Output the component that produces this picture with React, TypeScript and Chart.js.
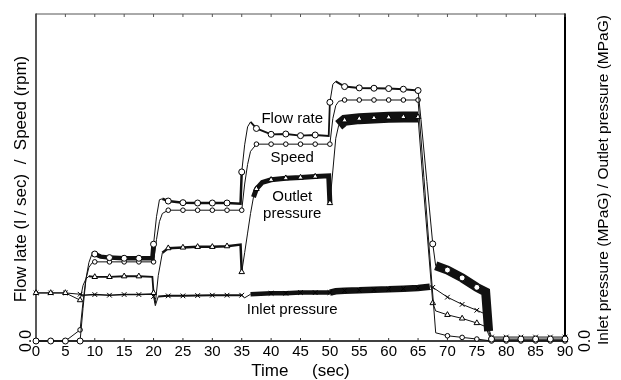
import React, { useEffect, useRef } from 'react';
import { Chart, registerables } from 'chart.js';

Chart.register(...registerables);

const FONT = "'Liberation Sans', Arial, Helvetica, sans-serif";

// ---- data ----
const X_TICKS = [0, 5, 10, 15, 20, 25, 30, 35, 40, 45, 50, 55, 60, 65, 70, 75, 80, 85, 90];

const flowTime = [0, 2.5, 5, 7.5, 8, 8.5, 9, 9.5, 10, 11, 12.5, 15, 17.5, 19.8, 20, 20.5, 21, 21.5, 22.5, 25, 27.5, 30, 32.5, 34.8, 35, 35.5, 36, 36.5, 37.5, 40, 42.5, 45, 47.5, 49.8, 50, 50.5, 51, 52, 52.5, 55, 57.5, 60, 62.5, 65, 65.5, 66.5, 67.5, 68, 70, 72.5, 75, 76.5, 77, 77.5, 80, 82.5, 85, 87.5, 90];
const flowRate = [0, 0, 0, 0, 10, 19, 24, 26.5, 26.6, 25.8, 25.5, 25.3, 25.3, 25.3, 29.6, 38, 43.2, 43.5, 42.8, 42.3, 42.2, 42.2, 42.2, 42, 51.7, 60, 65.5, 67, 65, 63.2, 63.3, 62.8, 63, 62.7, 73, 78.5, 79.4, 78.3, 77.8, 77.4, 77.3, 77.2, 77, 76.6, 67.7, 48.8, 29.7, 23, 21.7, 19.3, 16.4, 15, 3, 0.6, 0.6, 0.6, 0.6, 0.6, 0.6];

const speedTime = [0, 2.5, 5, 7.5, 8, 8.5, 9, 9.5, 10, 12.5, 15, 17.5, 20, 20.5, 21, 21.5, 22.5, 25, 27.5, 30, 32.5, 35, 35.5, 36, 36.5, 37.5, 40, 42.5, 45, 47.5, 50, 50.5, 51, 51.5, 52.5, 55, 57.5, 60, 62.5, 65, 66, 67, 68, 70, 72.5, 75, 77.5, 80, 82.5, 85, 87.5, 90];
const speedValue = [0, 0, 0, 3.4, 12, 19, 22.5, 23.8, 24.2, 24.2, 24.2, 24.2, 24.2, 31, 36.5, 39, 40, 40, 40, 40, 40, 40, 48, 54, 58, 60.2, 60.2, 60.2, 60.2, 60.2, 60.2, 68, 72, 73.3, 73.7, 73.7, 73.7, 73.7, 73.7, 73.7, 50, 26, 2.5, 1.6, 1.1, 0.6, 0, 0, 0, 0, 0, 0];

const outletTime = [0, 2.5, 5, 7.5, 8, 8.5, 9, 10, 12.5, 15, 17.5, 19.8, 20, 20.3, 20.8, 21.5, 22.5, 25, 27.5, 30, 32.5, 34.8, 35, 35.5, 36, 36.5, 37, 37.5, 38.5, 40, 42.5, 45, 47.5, 49.8, 50, 50.5, 51, 51.5, 52.5, 55, 57.5, 60, 62.5, 65, 66, 67.5, 68, 70, 72.5, 75, 76.5, 77, 77.5, 80, 82.5, 85, 87.5, 90];
const outletPressure = [14.7, 14.7, 14.7, 12.5, 17, 19, 19.8, 19.6, 19.6, 19.8, 19.8, 19.6, 14.7, 11.5, 20, 27, 28.4, 28.6, 28.8, 28.8, 29, 29.5, 21.1, 27, 33, 39, 44, 46.5, 48.5, 49.3, 49.8, 50, 50.3, 50.5, 42.2, 52, 62, 66, 67.5, 68, 68.2, 68.4, 68.5, 68.5, 45, 11.6, 9.2, 8, 6.9, 5.5, 4.4, 2, 0.3, 0.3, 0.3, 0.3, 0.3, 0.3];

const inletTime = [0, 2.5, 5, 7.5, 8, 10, 12.5, 15, 17.5, 19.8, 20, 20.3, 20.8, 22.5, 25, 27.5, 30, 32.5, 35, 35.5, 36.5, 40, 42.5, 45, 47.5, 50, 51, 52.5, 55, 57.5, 60, 62.5, 65, 67, 67.5, 70, 72.5, 75, 76.5, 77, 77.5, 80, 82.5, 85, 87.5, 90];
const inletPressure = [14.7, 14.7, 14.7, 14.3, 14.0, 14.2, 14.0, 14.2, 14.2, 14.4, 13.6, 10.8, 13.6, 13.8, 13.8, 13.9, 14.0, 14.0, 14.0, 13.2, 14.3, 14.6, 14.6, 14.8, 14.8, 14.8, 15.2, 15.4, 15.5, 15.7, 15.8, 16.0, 16.2, 16.6, 16.4, 13.4, 11.2, 9.4, 8.2, 4, 1.2, 1.2, 1.2, 1.2, 1.2, 1.2];

const X_TITLE = 'Time     (sec)';
const LEFT_TITLE = 'Flow late (l / sec)  /  Speed (rpm)';
const RIGHT_TITLE = 'Inlet pressure (MPaG) / Outlet pressure (MPaG)';
const ZERO_LABEL = '0.0';

// in-plot labels: text with anchor in data units (sec, value)
const LABELS = [
  { text: 'Flow rate', t: 43.6, v: 66.8 },
  { text: 'Speed', t: 43.6, v: 54.8 },
  { text: 'Outlet', t: 43.6, v: 42.8 },
  { text: 'pressure', t: 43.6, v: 37.5 },
  { text: 'Inlet pressure', t: 43.6, v: 8.3 },
];

// ---- styles: noisy stretches drawn as thick bands [from, to, width px] ----
type Band = [number, number, number];
const FLOW_BANDS: Band[] = [[9.5, 20, 4.5], [21.5, 35, 2.5], [37, 50, 1.8], [51.5, 65, 2], [68, 77, 9]];
const SPEED_BANDS: Band[] = [];
const OUTLET_BANDS: Band[] = [[9, 20, 1.8], [21.5, 35, 2.5], [37, 50, 5], [51.5, 65, 11]];
const INLET_BANDS: Band[] = [[7.5, 20, 1.5], [20.8, 35, 2], [36.5, 50, 4.5], [50.5, 67, 6.5]];

const isMark = (x: number) => Math.abs(x / 2.5 - Math.round(x / 2.5)) < 1e-6;

function makeDataset(label: string, times: number[], values: number[], bands: Band[], style: string, radius: number) {
  return {
    label,
    data: times.map((t, i) => ({ x: t, y: values[i] })),
    borderColor: '#111',
    borderWidth: 1,
    tension: 0,
    clip: false as any,
    pointStyle: style,
    pointRadius: (c: any) => (c.raw && isMark(c.raw.x) ? radius : 0),
    pointBackgroundColor: '#fff',
    pointBorderColor: '#000',
    pointBorderWidth: 1,
    segment: {
      borderWidth: (c: any) => {
        const m = (c.p0.parsed.x + c.p1.parsed.x) / 2;
        for (const [a, b, w] of bands) if (m >= a && m <= b) return w;
        return 1;
      },
    },
  };
}

const framePlugin = {
  id: 'frame',
  beforeDatasetsDraw(chart: any) {
    const { ctx, chartArea, scales } = chart;
    const { left, right, top, bottom } = chartArea;
    ctx.save();
    const seg = (x1: number, y1: number, x2: number, y2: number, w: number, c: string) => {
      ctx.beginPath();
      ctx.strokeStyle = c;
      ctx.lineWidth = w;
      ctx.moveTo(x1, y1);
      ctx.lineTo(x2, y2);
      ctx.stroke();
    };
    seg(left, top, right, top, 1, '#555');
    seg(left, top - 0.5, left, bottom, 1.5, '#222');
    seg(right, top - 0.5, right, bottom + 1, 2, '#000');
    seg(left - 0.5, bottom, right + 1, bottom, 1.5, '#000');
    for (const v of X_TICKS) {
      const px = scales.x.getPixelForValue(v);
      seg(px, top, px, top + 3, 1, '#555');
      seg(px, bottom, px, bottom - 3, 1, '#333');
    }
    ctx.restore();
  },
};

const textPlugin = {
  id: 'texts',
  afterDraw(chart: any) {
    const { ctx, scales } = chart;
    const { x, y } = scales;
    ctx.save();
    ctx.fillStyle = '#000';
    ctx.textAlign = 'center';
    ctx.textBaseline = 'alphabetic';
    ctx.font = `15px ${FONT}`;
    for (const l of LABELS) {
      ctx.fillText(l.text, x.getPixelForValue(l.t), y.getPixelForValue(l.v));
    }
    const rot = (text: string, px: number, py: number, size: number) => {
      ctx.save();
      ctx.translate(px, py);
      ctx.rotate(-Math.PI / 2);
      ctx.font = `${size}px ${FONT}`;
      ctx.fillText(text, 0, 0);
      ctx.restore();
    };
    const y0 = y.getPixelForValue(0);
    rot(LEFT_TITLE, 25.5, 179, 17);
    rot(RIGHT_TITLE, 608, 180, 15.5);
    rot(ZERO_LABEL, 31, y0, 16);
    rot(ZERO_LABEL, 590, y0, 16);
    ctx.restore();
  },
};

export default function App() {
  const ref = useRef<HTMLCanvasElement | null>(null);
  useEffect(() => {
    if (!ref.current) return;
    const chart = new Chart(ref.current, {
      type: 'line',
      data: {
        datasets: [
          makeDataset('Flow rate', flowTime, flowRate, FLOW_BANDS, 'circle', 3),
          makeDataset('Speed', speedTime, speedValue, SPEED_BANDS, 'circle', 2.3),
          makeDataset('Outlet pressure', outletTime, outletPressure, OUTLET_BANDS, 'triangle', 3.2),
          makeDataset('Inlet pressure', inletTime, inletPressure, INLET_BANDS, 'crossRot', 3.3),
        ] as any,
      },
      options: {
        animation: false,
        responsive: true,
        maintainAspectRatio: false,
        events: [],
        layout: { padding: { left: 36, right: 56, top: 14, bottom: 0 } },
        plugins: { legend: { display: false }, tooltip: { enabled: false } },
        scales: {
          x: {
            type: 'linear',
            min: 0,
            max: 90,
            afterBuildTicks: (s: any) => {
              s.ticks = X_TICKS.map((v) => ({ value: v }));
            },
            afterFit: (s: any) => {
              s.height = 39;
            },
            ticks: {
              color: '#000',
              font: { family: FONT, size: 15 },
              padding: 2,
              maxRotation: 0,
              minRotation: 0,
              autoSkip: false,
            },
            grid: { display: false, drawTicks: false },
            border: { display: false },
            title: {
              display: true,
              text: X_TITLE,
              color: '#000',
              font: { family: FONT, size: 17, lineHeight: 1 },
              padding: { top: 0, bottom: 0.5 },
            },
          },
          y: { type: 'linear', min: 0, max: 100, display: false },
        },
      } as any,
      plugins: [framePlugin, textPlugin],
    });
    return () => chart.destroy();
  }, []);
  return (
    <div style={{ position: 'fixed', left: 0, top: 0, width: 621, height: 380, background: '#fff' }}>
      <canvas ref={ref} />
    </div>
  );
}
